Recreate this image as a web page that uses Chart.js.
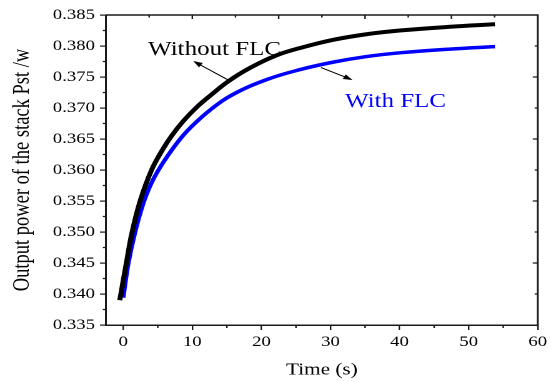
<!DOCTYPE html>
<html>
<head>
<meta charset="utf-8">
<script src="https://cdn.jsdelivr.net/npm/chart.js@4"></script>
<style>
  html, body { margin: 0; padding: 0; background: #fff; overflow: hidden; }
  #wrap { width: 445px; height: 382px; transform: scaleX(1.24944); transform-origin: 0 0; }
</style>
</head>
<body>
<div id="wrap"><canvas id="c" width="445" height="382"></canvas></div>
<script>
// ---- data ----
const timeWithout  = [-0.5, 0.5, 1.25, 2.45, 4.1, 5.6, 7.0, 8.7, 10.7, 12.7, 15.2, 18.4, 22.2, 26.0, 30.4, 35.2, 40.0, 47.3, 53.8];
const powerWithout = [0.3390, 0.3453, 0.3498, 0.3550, 0.3600, 0.3631, 0.3655, 0.3679, 0.3702, 0.3721, 0.3743, 0.3765, 0.3785, 0.3798, 0.3810, 0.3819, 0.3825, 0.3831, 0.3835];
const timeWith     = [0.0, 0.75, 1.7, 2.9, 4.0, 5.1, 6.5, 8.24, 9.7, 12.6, 15.9, 20.8, 25.6, 30.4, 35.2, 40.0, 47.3, 53.8];
const powerWith    = [0.3394, 0.3450, 0.3499, 0.3546, 0.3577, 0.3600, 0.3624, 0.3650, 0.3668, 0.3697, 0.3722, 0.3746, 0.3762, 0.3774, 0.3783, 0.3789, 0.3795, 0.3799];

const xTicks = [0, 10, 20, 30, 40, 50, 60];
const yTicks = [0.335, 0.340, 0.345, 0.350, 0.355, 0.360, 0.365, 0.370, 0.375, 0.380, 0.385];
const yTickLabels = ['0.335', '0.340', '0.345', '0.350', '0.355', '0.360', '0.365', '0.370', '0.375', '0.380', '0.385'];

const seriesNames = ['Without FLC', 'With FLC'];
const xTitle = 'Time (s)';
const yTitle = 'Output power of the stack Pst /w';

// annotation placement (data coordinates)
const labelWithout = { x: 3.6, y: 0.37855 };
const labelWith = { x: 32.1, y: 0.37016 };
const arrowWithout = { from: [15.18, 0.37452], to: [10.12, 0.37758] };
const arrowWith = { from: [28.63, 0.37653], to: [33.2, 0.37452] };

const FONT = '"Liberation Serif", "Times New Roman", serif';
const AXIS = '#1a1a1a';
const BLUE = '#0000FF';

function pts(xs, ys) { return xs.map((x, i) => ({ x: x, y: ys[i] })); }

const decor = {
  id: 'decor',
  afterDraw(chart) {
    const ctx = chart.ctx;
    const a = chart.chartArea;
    const xs = chart.scales.x, ys = chart.scales.y;
    ctx.save();
    ctx.strokeStyle = AXIS;
    ctx.lineWidth = 1.5;
    ctx.beginPath();
    ctx.moveTo(a.left, a.top); ctx.lineTo(a.right, a.top); ctx.lineTo(a.right, a.bottom);
    ctx.stroke();
    ctx.lineWidth = 1.2;
    ctx.beginPath();
    for (let i = 0; i < yTicks.length - 1; i++) {
      const py = ys.getPixelForValue((yTicks[i] + yTicks[i + 1]) / 2);
      ctx.moveTo(a.left - 2.5, py); ctx.lineTo(a.left, py);
    }
    for (let i = 0; i < xTicks.length - 1; i++) {
      const px = xs.getPixelForValue((xTicks[i] + xTicks[i + 1]) / 2);
      ctx.moveTo(px, a.bottom); ctx.lineTo(px, a.bottom + 3);
    }
    for (let i = 1; i < 10; i++) {
      const px = a.left + (a.right - a.left) * i / 10;
      const len = (i % 2 === 0) ? 4 : 2.5;
      ctx.moveTo(px, a.top); ctx.lineTo(px, a.top + len);
    }
    for (let i = 1; i < 10; i++) {
      const py = a.top + (a.bottom - a.top) * i / 10;
      const len = (i % 2 === 0) ? 4 : 2.5;
      ctx.moveTo(a.right, py); ctx.lineTo(a.right - len, py);
    }
    ctx.stroke();

    function arrow(from, to, color) {
      const x1 = xs.getPixelForValue(from[0]), y1 = ys.getPixelForValue(from[1]);
      const x2 = xs.getPixelForValue(to[0]), y2 = ys.getPixelForValue(to[1]);
      const ang = Math.atan2(y2 - y1, x2 - x1);
      const hl = 7.5, hw = 2.6;
      ctx.strokeStyle = color; ctx.fillStyle = color; ctx.lineWidth = 1;
      ctx.beginPath();
      ctx.moveTo(x1, y1);
      ctx.lineTo(x2 - Math.cos(ang) * hl * 0.8, y2 - Math.sin(ang) * hl * 0.8);
      ctx.stroke();
      ctx.beginPath();
      ctx.moveTo(x2, y2);
      ctx.lineTo(x2 - Math.cos(ang) * hl - Math.sin(ang) * hw, y2 - Math.sin(ang) * hl + Math.cos(ang) * hw);
      ctx.lineTo(x2 - Math.cos(ang) * hl + Math.sin(ang) * hw, y2 - Math.sin(ang) * hl - Math.cos(ang) * hw);
      ctx.closePath();
      ctx.fill();
    }
    arrow(arrowWithout.from, arrowWithout.to, '#000');
    arrow(arrowWith.from, arrowWith.to, '#000');

    ctx.font = '20px ' + FONT;
    ctx.textAlign = 'left';
    ctx.textBaseline = 'alphabetic';
    ctx.fillStyle = '#000';
    ctx.fillText(seriesNames[0], xs.getPixelForValue(labelWithout.x), ys.getPixelForValue(labelWithout.y));
    ctx.fillStyle = BLUE;
    ctx.fillText(seriesNames[1], xs.getPixelForValue(labelWith.x), ys.getPixelForValue(labelWith.y));
    ctx.restore();
  }
};

new Chart(document.getElementById('c'), {
  type: 'scatter',
  data: {
    datasets: [
      { label: seriesNames[0], data: pts(timeWithout, powerWithout), showLine: true, borderColor: '#000', borderWidth: 4, pointRadius: 0, tension: 0.4, borderCapStyle: 'butt' },
      { label: seriesNames[1], data: pts(timeWith, powerWith), showLine: true, borderColor: BLUE, borderWidth: 3.5, pointRadius: 0, tension: 0.4, borderCapStyle: 'butt' }
    ]
  },
  options: {
    responsive: false,
    devicePixelRatio: 2,
    animation: false,
    layout: { padding: { left: 0, right: 14.6, top: 15, bottom: 0 } },
    plugins: { legend: { display: false }, tooltip: { enabled: false } },
    scales: {
      x: {
        type: 'linear', min: -2.5, max: 60,
        afterBuildTicks(s) { s.ticks = xTicks.map(v => ({ value: v })); },
        afterFit(s) { s.height = 57; },
        grid: { display: true, drawOnChartArea: false, drawTicks: true, tickLength: 5, color: AXIS, lineWidth: 1.2 },
        border: { display: true, color: AXIS, width: 1.5 },
        ticks: { autoSkip: false, maxRotation: 0, padding: 3, color: '#000', font: { family: FONT, size: 15 },
                 callback: (v) => String(v) },
        title: { display: true, text: xTitle, color: '#000', font: { family: FONT, size: 17 }, padding: { top: 0, bottom: 2 } }
      },
      y: {
        type: 'linear', min: 0.335, max: 0.385,
        afterBuildTicks(s) { s.ticks = yTicks.map(v => ({ value: v })); },
        afterFit(s) { s.width = 84.8; },
        grid: { display: true, drawOnChartArea: false, drawTicks: true, tickLength: 4.8, color: AXIS, lineWidth: 1.2 },
        border: { display: true, color: AXIS, width: 1.5 },
        ticks: { autoSkip: false, padding: 4, color: '#000', font: { family: FONT, size: 15 },
                 callback: (v, i) => yTickLabels[i] },
        title: { display: true, text: yTitle, color: '#000', font: { family: FONT, size: 18.5 }, padding: { top: 7, bottom: 0 } }
      }
    }
  },
  plugins: [decor]
});
</script>
</body>
</html>
